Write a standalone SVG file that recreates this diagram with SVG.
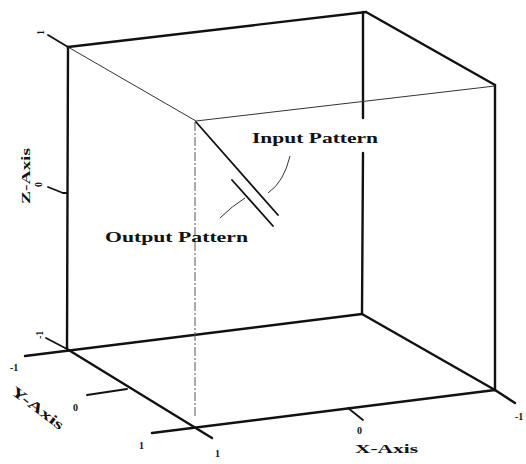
<svg xmlns="http://www.w3.org/2000/svg" width="526" height="464" viewBox="0 0 526 464">
<style>
.thick{stroke:#111;stroke-width:2.4;fill:none;stroke-linecap:round}
.mid{stroke:#111;stroke-width:1.8;fill:none;stroke-linecap:round}
.thin{stroke:#333;stroke-width:1;fill:none}
.dash{stroke:#555;stroke-width:1;fill:none;stroke-dasharray:9 2 2 2}
.lbl{font-family:"Liberation Serif",serif;font-weight:bold;fill:#111}
.tick{font-family:"Liberation Serif",serif;font-weight:bold;fill:#111;font-size:10px}
</style>
<rect width="526" height="464" fill="#fff"/>
<g id="connectors">
<line class="thick" x1="68" y1="47" x2="67" y2="349"/>
<line class="thick" x1="68" y1="47" x2="366" y2="12"/>
<line class="thick" x1="366" y1="12" x2="495" y2="85"/>
<line class="thick" x1="495" y1="85" x2="495" y2="390"/>
<line class="thick" x1="363" y1="12" x2="363" y2="118"/>
<line class="thick" x1="363" y1="153" x2="362" y2="314"/>
<line class="thick" x1="25" y1="356" x2="362" y2="314"/>
<line class="thick" x1="362" y1="314" x2="495" y2="390"/>
<line class="thick" x1="152" y1="433" x2="495" y2="390"/>
<line class="thick" x1="495" y1="390" x2="515" y2="403"/>
<line class="thick" x1="67" y1="349" x2="212" y2="438"/>
<line class="thin" x1="68" y1="47" x2="196" y2="121"/>
<line class="thin" x1="196" y1="121" x2="495" y2="86"/>
<line class="dash" x1="195" y1="122" x2="195" y2="418"/>
<line class="mid" x1="48" y1="35" x2="68" y2="47"/>
<line class="mid" x1="48" y1="187" x2="63" y2="193"/>
<line class="mid" x1="63" y1="193" x2="67" y2="193"/>
<line class="mid" x1="46" y1="338" x2="67" y2="349"/>
<line class="mid" x1="87" y1="395" x2="127" y2="389"/>
<line class="mid" x1="348" y1="408" x2="363" y2="420"/>
<path class="thin" d="M290,156 Q284,182 268,193"/>
<path class="thin" d="M220,218 Q232,206 245,198"/>
</g>
<g id="patterns">
<line class="mid" x1="196" y1="122" x2="278" y2="215"/>
<line class="mid" x1="232" y1="180" x2="273" y2="226"/>
</g>
<g id="input-label"><text class="lbl" x="252" y="143" font-size="14" textLength="126" lengthAdjust="spacingAndGlyphs">Input Pattern</text></g>
<g id="output-label"><text class="lbl" x="105" y="242" font-size="14" textLength="143" lengthAdjust="spacingAndGlyphs">Output Pattern</text></g>
<g id="z-axis">
<text class="lbl" font-size="13" transform="translate(30,204) rotate(-90)" textLength="56" lengthAdjust="spacingAndGlyphs">Z-Axis</text>
<text class="tick" transform="translate(42,187) rotate(-90)">0</text>
<text class="tick" transform="translate(44,35) rotate(-90)">1</text>
<text class="tick" transform="translate(43,339) rotate(-90)">-1</text>
</g>
<g id="y-axis">
<text class="lbl" font-size="14" transform="translate(10,393) rotate(37)" textLength="62" lengthAdjust="spacingAndGlyphs">Y-Axis</text>
<text class="tick" x="10" y="371">-1</text>
<text class="tick" x="73" y="411">0</text>
<text class="tick" x="139" y="449">1</text>
</g>
<g id="x-axis">
<text class="lbl" font-size="13" x="355" y="453" textLength="63" lengthAdjust="spacingAndGlyphs">X-Axis</text>
<text class="tick" x="357" y="434" font-size="9">0</text>
<text class="tick" x="215" y="457">1</text>
<text class="tick" x="515" y="420">-1</text>
</g>
</svg>
